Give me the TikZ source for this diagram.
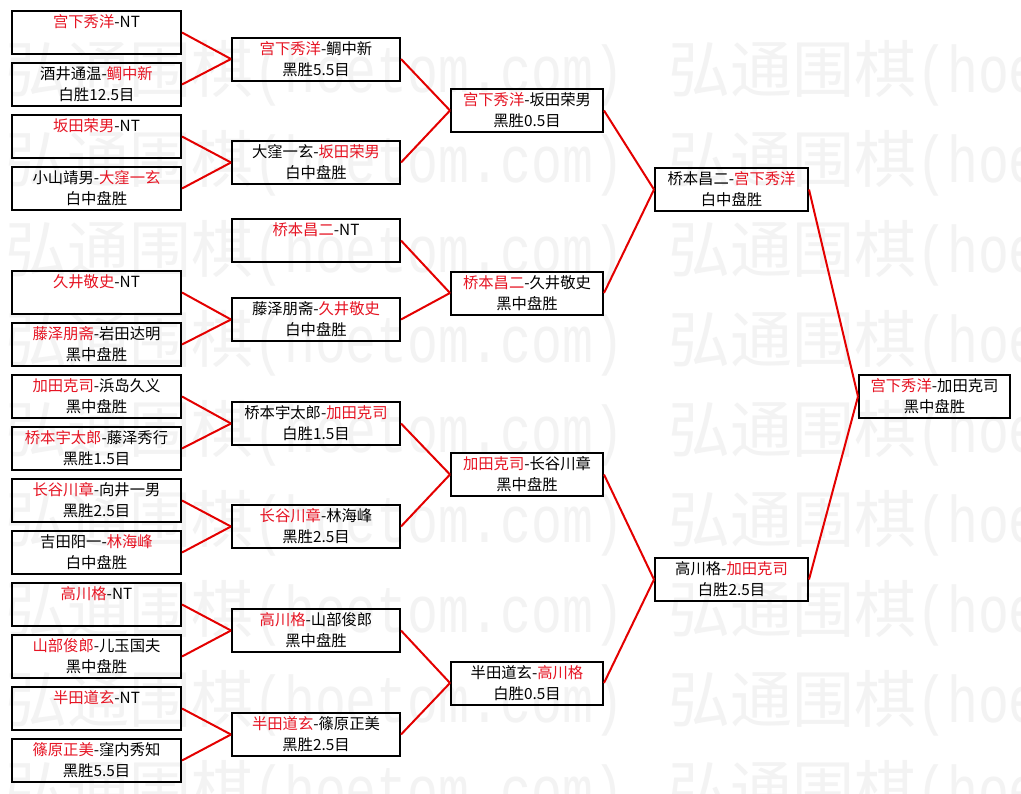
\documentclass[tikz,border=0pt]{standalone}
\usepackage{fontspec}
\usepackage{xcolor}
\newfontfamily\cjk{Noto Sans CJK SC}
\newfontfamily\wmlat[FakeStretch=0.78]{Liberation Mono}
\definecolor{namered}{RGB}{230,20,35}
\definecolor{linkred}{RGB}{228,0,0}
\definecolor{wmgray}{RGB}{243,243,243}
\newcommand{\wn}[1]{\textcolor{namered}{#1}}

\begin{document}
\begin{tikzpicture}[x=0.75pt,y=-0.75pt,
		game/.style={draw,line width=1.5pt,inner sep=0pt,minimum height=32.25pt,align=center,
			font=\cjk\fontsize{11.5}{15.75}\selectfont},
		r1box/.style={game,minimum width=126.75pt},
		r2box/.style={game,minimum width=126pt},
		r3box/.style={game,minimum width=114pt},
		r4box/.style={game,minimum width=114.75pt},
		r5box/.style={game,minimum width=113.25pt},
		link/.style={draw=linkred,line width=1.5pt},
		mark text/.style={anchor=base west,inner sep=0pt,text=wmgray,
			font=\cjk\fontsize{46.5}{46.5}\selectfont}
	]
		\useasboundingbox (0,0) rectangle (1021,793);
		\fill[white] (0,0) rectangle (1021,793);
		
		% watermark
		\foreach \k in {0,...,8}
		\foreach \j in {0,1}
		\node[mark text] (wm\k\j) at (5+663*\j,92+90*\k) {弘通围棋{\wmlat\fontsize{49.5}{49.5}\selectfont(hoetom.com)}};
		
		% first round
		\node[r1box] (s0) at (96.5,32.5) {\wn{宫下秀洋}-NT\\\phantom{白中盘胜}};
		\node[r1box] (s1) at (96.5,84.5) {酒井通温-\wn{鲷中新}\\白胜12.5目};
		\node[r1box] (s2) at (96.5,136.5) {\wn{坂田荣男}-NT\\\phantom{白中盘胜}};
		\node[r1box] (s3) at (96.5,188.5) {小山靖男-\wn{大窪一玄}\\白中盘胜};
		\node[r1box] (s5) at (96.5,292.5) {\wn{久井敬史}-NT\\\phantom{白中盘胜}};
		\node[r1box] (s6) at (96.5,344.5) {\wn{藤泽朋斋}-岩田达明\\黑中盘胜};
		\node[r1box] (s7) at (96.5,396.5) {\wn{加田克司}-浜岛久义\\黑中盘胜};
		\node[r1box] (s8) at (96.5,448.5) {\wn{桥本宇太郎}-藤泽秀行\\黑胜1.5目};
		\node[r1box] (s9) at (96.5,500.5) {\wn{长谷川章}-向井一男\\黑胜2.5目};
		\node[r1box] (s10) at (96.5,552.5) {吉田阳一-\wn{林海峰}\\白中盘胜};
		\node[r1box] (s11) at (96.5,604.5) {\wn{高川格}-NT\\\phantom{白中盘胜}};
		\node[r1box] (s12) at (96.5,656.5) {\wn{山部俊郎}-儿玉国夫\\黑中盘胜};
		\node[r1box] (s13) at (96.5,708.5) {\wn{半田道玄}-NT\\\phantom{白中盘胜}};
		\node[r1box] (s14) at (96.5,760.5) {\wn{篠原正美}-窪内秀知\\黑胜5.5目};
		
		% second round
		\node[r2box] (r2a) at (316,59) {\wn{宫下秀洋}-鲷中新\\黑胜5.5目};
		\node[r2box] (r2b) at (316,162.5) {大窪一玄-\wn{坂田荣男}\\白中盘胜};
		\node[r2box] (r2c) at (316,240.5) {\wn{桥本昌二}-NT\\\phantom{白中盘胜}};
		\node[r2box] (r2d) at (316,319.5) {藤泽朋斋-\wn{久井敬史}\\白中盘胜};
		\node[r2box] (r2e) at (316,423.5) {桥本宇太郎-\wn{加田克司}\\白胜1.5目};
		\node[r2box] (r2f) at (316,526.5) {\wn{长谷川章}-林海峰\\黑胜2.5目};
		\node[r2box] (r2g) at (316,630.5) {\wn{高川格}-山部俊郎\\黑中盘胜};
		\node[r2box] (r2h) at (316,734.5) {\wn{半田道玄}-篠原正美\\黑胜2.5目};
		
		% third round
		\node[r3box] (r3a) at (527,110.5) {\wn{宫下秀洋}-坂田荣男\\黑胜0.5目};
		\node[r3box] (r3b) at (527,293) {\wn{桥本昌二}-久井敬史\\黑中盘胜};
		\node[r3box] (r3c) at (527,474.5) {\wn{加田克司}-长谷川章\\黑中盘胜};
		\node[r3box] (r3d) at (527,683) {半田道玄-\wn{高川格}\\白胜0.5目};
		
		% semi-finals and final
		\node[r4box] (r4a) at (731.5,189.5) {桥本昌二-\wn{宫下秀洋}\\白中盘胜};
		\node[r4box] (r4b) at (731.5,579.5) {高川格-\wn{加田克司}\\白胜2.5目};
		\node[r5box] (fin) at (934.5,396.5) {\wn{宫下秀洋}-加田克司\\黑中盘胜};
		
		\foreach \a/\b in {s0/r2a,s1/r2a,s2/r2b,s3/r2b,s5/r2d,s6/r2d,s7/r2e,s8/r2e,
			s9/r2f,s10/r2f,s11/r2g,s12/r2g,s13/r2h,s14/r2h,
			r2a/r3a,r2b/r3a,r2c/r3b,r2d/r3b,r2e/r3c,r2f/r3c,r2g/r3d,r2h/r3d,
			r3a/r4a,r3b/r4a,r3c/r4b,r3d/r4b,r4a/fin,r4b/fin}
		\draw[link] (\a.east) -- (\b.west);
\end{tikzpicture}
\end{document}
